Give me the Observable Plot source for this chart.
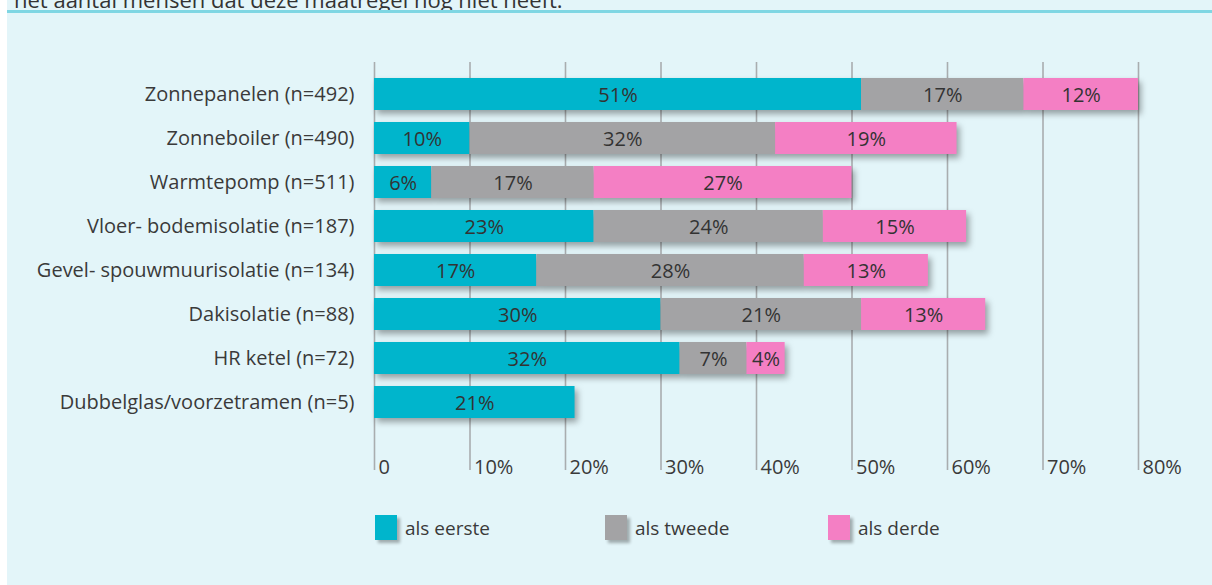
<!DOCTYPE html>
<html>
<head>
<meta charset="utf-8">
<script src="https://cdn.jsdelivr.net/npm/d3@7"></script>
<script src="https://cdn.jsdelivr.net/npm/@observablehq/plot@0.6"></script>
<style>
  html, body { margin: 0; padding: 0; background: #ffffff; width: 1212px; height: 585px; overflow: hidden; }
  #panel { position: absolute; left: 7px; top: 0; width: 1205px; height: 585px; background: #e3f5f9; }
  #topline { position: absolute; left: 7px; top: 10px; width: 1205px; height: 3px; background: #7fd6e3; }
  #toptext { position: absolute; left: 14px; top: -11px; font: 22px "Open Sans", sans-serif; line-height: 20px; color: #333; white-space: nowrap; }
  #chart { position: absolute; left: 0; top: 0; }
  #chart svg { background: transparent; overflow: visible; }
  #chart g[aria-label="bar"] { filter: drop-shadow(3px 4px 3px rgba(0,0,0,0.35)); }
  #legend { position: absolute; left: 0; top: 515px; width: 1212px; height: 30px; font: 19px "Open Sans", sans-serif; color: #3a3a3a; }
  .sw { position: absolute; top: 0; width: 22px; height: 25px; box-shadow: 3px 3px 3px rgba(0,0,0,0.3); }
  .lt { position: absolute; top: 0; line-height: 27px; }
</style>
</head>
<body>
<div id="panel"></div>
<div id="toptext">het aantal mensen dat deze maatregel nog niet heeft.</div>
<div id="topline"></div>
<div id="chart"></div>
<div id="legend"></div>
<script>
const categories = [
  "Zonnepanelen (n=492)",
  "Zonneboiler (n=490)",
  "Warmtepomp (n=511)",
  "Vloer- bodemisolatie (n=187)",
  "Gevel- spouwmuurisolatie (n=134)",
  "Dakisolatie (n=88)",
  "HR ketel (n=72)",
  "Dubbelglas/voorzetramen (n=5)"
];
const series = ["als eerste", "als tweede", "als derde"];
const colors = ["#00b5cc", "#a3a3a5", "#f47fc4"];
const eerste = [51, 10, 6, 23, 17, 30, 32, 21];
const tweede = [17, 32, 17, 24, 28, 21, 7, null];
const derde  = [12, 19, 27, 15, 13, 13, 4, null];
const xTicks = [0, 10, 20, 30, 40, 50, 60, 70, 80];
const xTickLabels = ["0", "10%", "20%", "30%", "40%", "50%", "60%", "70%", "80%"];

const rows = [];
[eerste, tweede, derde].forEach((vals, si) => {
  vals.forEach((v, ci) => {
    if (v != null) rows.push({cat: categories[ci], serie: series[si], value: v});
  });
});
const ticks = xTicks.map((t, i) => ({t, label: xTickLabels[i]}));

const font = "'Open Sans', sans-serif";
const plot = Plot.plot({
  width: 1212,
  height: 500,
  marginLeft: 374,
  marginRight: 74,
  marginTop: 62,
  marginBottom: 30,
  style: {fontFamily: font, fontSize: "20px", color: "#3a3a3a", background: "transparent"},
  x: {domain: [0, 80], axis: null},
  y: {domain: categories, paddingInner: 0.28, paddingOuter: 0.745, align: 0.24, label: null},
  color: {domain: series, range: colors},
  marks: [
    Plot.ruleX(ticks, {x: "t", stroke: "#a9adaf", strokeWidth: 1.6}),
    Plot.barX(rows, Plot.stackX({x: "value", y: "cat", fill: "serie", z: "serie", order: null})),
    Plot.text(rows, Plot.stackX({x: "value", y: "cat", z: "serie", order: null, text: d => d.value + "%", fill: "#333333", fontSize: 20, letterSpacing: "1px", dy: 1})),
    Plot.text(ticks, {x: "t", text: "label", frameAnchor: "bottom", lineAnchor: "bottom", textAnchor: "start", dx: 4, dy: 3, fill: "#3a3a3a", fontSize: 20, letterSpacing: "0.3px"}),
    Plot.axisY({tickSize: 0, tickPadding: 20, fontSize: 20, fill: "#3a3a3a", label: null})
  ]
});
document.getElementById("chart").appendChild(plot);

const legend = document.getElementById("legend");
const swX = [375, 605, 828];
series.forEach((s, i) => {
  const sw = document.createElement("div");
  sw.className = "sw";
  sw.style.left = swX[i] + "px";
  sw.style.background = colors[i];
  legend.appendChild(sw);
  const lt = document.createElement("div");
  lt.className = "lt";
  lt.style.left = (swX[i] + 30) + "px";
  lt.textContent = s;
  legend.appendChild(lt);
});
</script>
</body>
</html>
